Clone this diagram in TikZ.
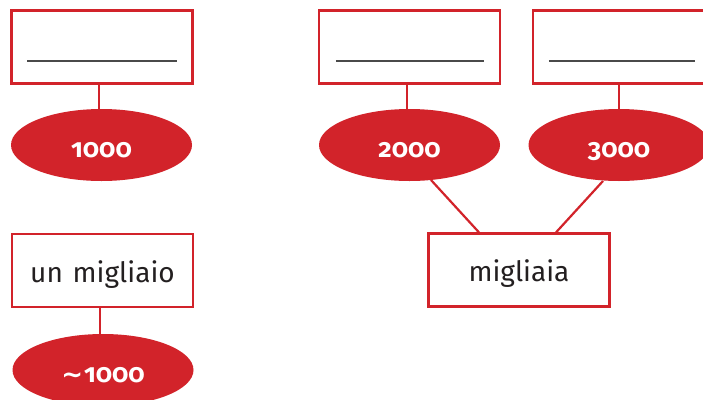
\documentclass[tikz,border=0pt]{standalone}
\usepackage{fontspec}
\setmainfont{Fira Sans}
\newfontfamily\numfont[Numbers=OldStyle]{Fira Sans}
\newfontfamily\djfont{DejaVu Sans}
\usetikzlibrary{shapes.geometric}
\definecolor{rd}{HTML}{D2232A}
\definecolor{tx}{HTML}{231F20}
\definecolor{bl}{HTML}{4A4A4A}
\tikzset{
  box/.style={draw=rd, line width=2.2pt, fill=white, minimum width=181pt, minimum height=73pt, inner sep=0pt, text=tx, font=\fontsize{28}{28}\selectfont, text height=23pt, text depth=0pt},
  oval/.style={ellipse, fill=rd, draw=none, minimum width=181pt, minimum height=72pt, inner sep=0pt, text=white, font=\numfont\fontsize{26}{26}\selectfont\bfseries, text height=24pt, text depth=0pt},
  link/.style={draw=rd, line width=2.2pt},
  blank/.style={draw=bl, line width=1.5pt}
}
\begin{document}
\begin{tikzpicture}[x=1pt,y=-1pt]
\useasboundingbox (0,0) rectangle (703,399);
\clip (0,0) rectangle (703,399);
\fill[white] (0,0) rectangle (703,399);
% top row boxes
\node[box] (b1) at (102,47) {};
\node[box] (b2) at (409.5,47) {};
\node[box] (b3) at (623.5,47) {};
% ellipses
\node[oval] (e1) at (101.5,145) {1000};
\node[oval] (e2) at (409.5,145) {2000};
\node[oval] (e3) at (619,145) {3000};
% bottom
\node[box] (b4) at (102.5,270.5) {un\hspace{0.35em}migliaio};
\node[box] (b5) at (519,270) {migliaia};
\node[oval] (e4) at (103,370) {{\djfont\bfseries\raisebox{-1pt}{\char"223C}}\kern1pt 1000};
% connectors
\draw[link] (b1.south -| 99,0) -- (e1.north -| 99,0);
\draw[link] (b2.south -| 407,0) -- (e2.north -| 407,0);
\draw[link] (b3.south -| 619,0) -- (e3.north -| 619,0);
\draw[link] (b4.south -| 100,0) -- (e4.north -| 100,0);
\coordinate (c2) at (431,180);
\coordinate (c3) at (603,181);
\draw[link] (c2) -- (b5.north -| 479,0);
\draw[link] (c3) -- (b5.north -| 556,0);
% blank lines
\draw[blank] ([xshift=17pt,yshift=-14pt]b1.west) -- ([xshift=-17pt,yshift=-14pt]b1.east);
\draw[blank] ([xshift=18pt,yshift=-14pt]b2.west) -- ([xshift=-17pt,yshift=-14pt]b2.east);
\draw[blank] ([xshift=17pt,yshift=-14pt]b3.west) -- ([xshift=163pt,yshift=-14pt]b3.west);
\end{tikzpicture}
\end{document}
